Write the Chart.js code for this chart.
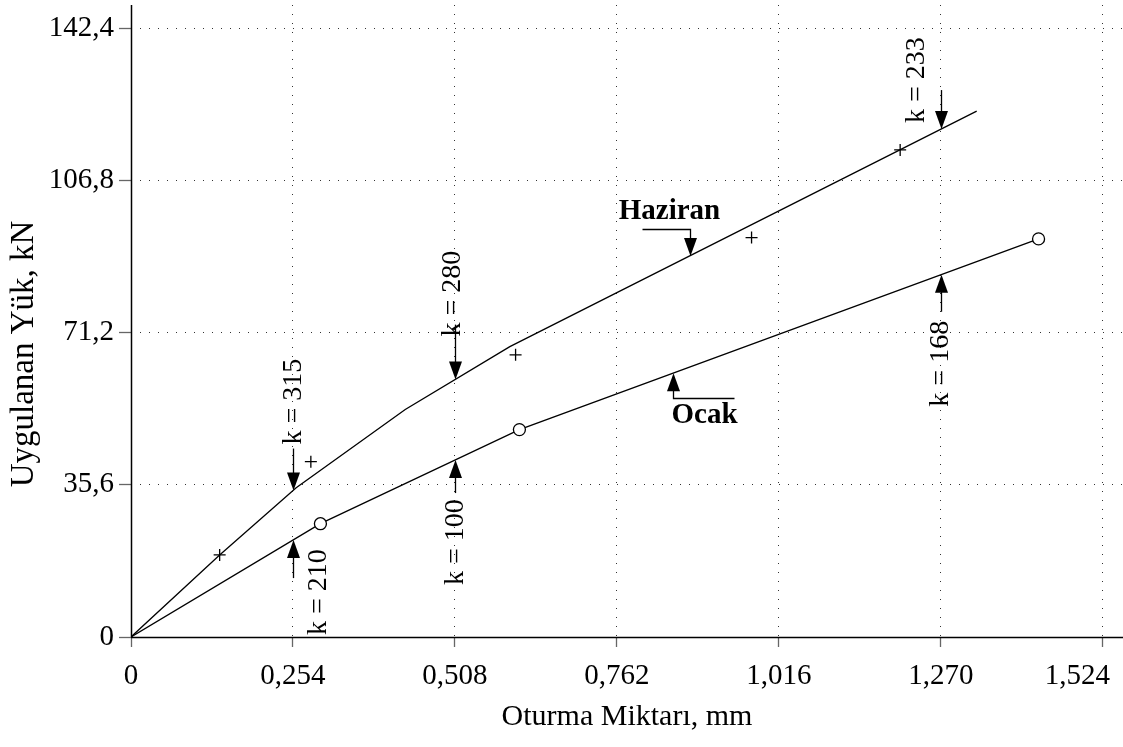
<!DOCTYPE html>
<html>
<head>
<meta charset="utf-8">
<script src="https://cdn.jsdelivr.net/npm/chart.js@4/dist/chart.umd.min.js"></script>
<style>
  html, body { margin: 0; padding: 0; background: #ffffff; }
  #wrap { width: 1123px; height: 747px; position: relative; }
</style>
</head>
<body>
<div id="wrap"><canvas id="c" width="1123" height="747"></canvas></div>
<script>
// ---- Data ----
const xTicks = [0, 0.254, 0.508, 0.762, 1.016, 1.270, 1.524];
const xTickLabels = ['0', '0,254', '0,508', '0,762', '1,016', '1,270', '1,524'];
const yTicks = [0, 35.6, 71.2, 106.8, 142.4];
const yTickLabels = ['0', '35,6', '71,2', '106,8', '142,4'];

// Haziran: fitted line (polyline) and measured points (+)
const hazLineX = [0, 0.139, 0.259, 0.430, 0.594, 1.326];
const hazLineY = [0, 19.2, 34.9, 53.2, 67.9, 123.0];
const hazPtsX = [0.139, 0.282, 0.603, 0.973, 1.206];
const hazPtsY = [19.2, 41.0, 66.0, 93.4, 113.9];

// Ocak: line through origin and measured points (o)
const ocakX = [0, 0.297, 0.609, 1.423];
const ocakY = [0, 26.5, 48.5, 93.1];

// k annotations
const kLabels = ['k = 315', 'k = 280', 'k = 233', 'k = 210', 'k = 100', 'k = 168'];
const kAtX = [0.254, 0.508, 1.270, 0.254, 0.508, 1.270];
const kSeries = ['Haziran', 'Haziran', 'Haziran', 'Ocak', 'Ocak', 'Ocak'];

// series name labels
const seriesNames = ['Haziran', 'Ocak'];
const seriesLabelAtX = [0.876, 0.850];

const xTitle = 'Oturma Miktarı, mm';
const yTitle = 'Uygulanan Yük, kN';

// ---- Build ----
const toPts = (xs, ys) => xs.map((x, i) => ({ x: x, y: ys[i] }));
const seriesLines = { Haziran: toPts(hazLineX, hazLineY), Ocak: toPts(ocakX, ocakY) };

function interpY(pts, x) {
  for (let i = 0; i < pts.length - 1; i++) {
    const a = pts[i], b = pts[i + 1];
    if (x >= a.x && x <= b.x) return a.y + (b.y - a.y) * (x - a.x) / (b.x - a.x);
  }
  return pts[pts.length - 1].y;
}

const SERIF = '"Liberation Serif", "Times New Roman", serif';

// layout styles for annotations (pixels, relative to the arrow tip)
const kStyle = [
  { dir: 'down', shaft: 42, tx: 0,   ty: -89 },
  { dir: 'down', shaft: 55, tx: -3,  ty: -86 },
  { dir: 'down', shaft: 39, tx: -25, ty: -49 },
  { dir: 'up',   shaft: 38, tx: 25,  ty: 52 },
  { dir: 'up',   shaft: 33, tx: 0,   ty: 82 },
  { dir: 'up',   shaft: 37, tx: -1,  ty: 89 }
];
const nameStyle = [
  { dir: 'down', shaft: 27, hx: -48, tx: -21, ty: -44 },
  { dir: 'up',   shaft: 25, hx: 61,  tx: 31,  ty: 42 }
];

function arrowHead(ctx, x, y, dir) {
  const L = 18, W = 6.5;
  ctx.beginPath();
  ctx.moveTo(x, y);
  if (dir === 'down') { ctx.lineTo(x - W, y - L); ctx.lineTo(x + W, y - L); }
  else { ctx.lineTo(x - W, y + L); ctx.lineTo(x + W, y + L); }
  ctx.closePath();
  ctx.fill();
}

const annotPlugin = {
  id: 'annot',
  afterDatasetsDraw(chart) {
    const ctx = chart.ctx;
    const xs = chart.scales.x, ys = chart.scales.y;
    ctx.save();
    ctx.fillStyle = '#000';
    ctx.strokeStyle = '#000';
    ctx.lineWidth = 1.3;
    // k labels
    kLabels.forEach((txt, i) => {
      const st = kStyle[i];
      const px = Math.round(xs.getPixelForValue(kAtX[i])) + 0.5;
      const py = ys.getPixelForValue(interpY(seriesLines[kSeries[i]], kAtX[i]));
      const sgn = st.dir === 'down' ? -1 : 1;
      ctx.beginPath();
      ctx.moveTo(px, py + sgn * 10);
      ctx.lineTo(px, py + sgn * st.shaft);
      ctx.stroke();
      arrowHead(ctx, px, py, st.dir);
      ctx.save();
      ctx.translate(px + st.tx, py + st.ty);
      ctx.rotate(-Math.PI / 2);
      ctx.font = '28px ' + SERIF;
      ctx.textAlign = 'center';
      ctx.textBaseline = 'middle';
      ctx.fillText(txt, 0, 0);
      ctx.restore();
    });
    // series name labels
    seriesNames.forEach((name, i) => {
      const st = nameStyle[i];
      const px = Math.round(xs.getPixelForValue(seriesLabelAtX[i])) + 0.5;
      const py = ys.getPixelForValue(interpY(seriesLines[name], seriesLabelAtX[i]));
      const sgn = st.dir === 'down' ? -1 : 1;
      const ey = Math.round(py + sgn * st.shaft) + 0.5;
      ctx.beginPath();
      ctx.moveTo(px, py + sgn * 10);
      ctx.lineTo(px, ey);
      ctx.lineTo(px + st.hx, ey);
      ctx.stroke();
      arrowHead(ctx, px, py, st.dir);
      ctx.font = 'bold 29px ' + SERIF;
      ctx.textAlign = 'center';
      ctx.textBaseline = 'middle';
      ctx.fillText(name, px + st.tx, py + st.ty);
    });
    // y axis title
    ctx.save();
    ctx.translate(24.5, 354);
    ctx.rotate(-Math.PI / 2);
    ctx.font = '33px ' + SERIF;
    ctx.textAlign = 'center';
    ctx.textBaseline = 'middle';
    ctx.fillText(yTitle, 0, 0);
    ctx.restore();
    // axis lines (solid)
    const a = chart.chartArea;
    ctx.lineWidth = 1.5;
    ctx.beginPath();
    ctx.moveTo(a.left + 0.5, a.top);
    ctx.lineTo(a.left + 0.5, a.bottom);
    ctx.moveTo(a.left, a.bottom + 0.5);
    ctx.lineTo(chart.width, a.bottom + 0.5);
    ctx.stroke();
    ctx.restore();
  }
};

function patchLastXLabel(s) {
  if (s._lastLabelPatched) return;
  s._lastLabelPatched = true;
  const orig = s.getLabelItems.bind(s);
  s.getLabelItems = function (ca) {
    const items = orig(ca);
    const last = items[items.length - 1];
    if (last) {
      last.options.textAlign = 'right';
      last.options.translation = [s.getPixelForValue(xTicks[xTicks.length - 1]) + 7, last.options.translation[1]];
    }
    return items;
  };
}

new Chart(document.getElementById('c'), {
  type: 'scatter',
  data: {
    datasets: [
      {
        label: 'Haziran (doğru)',
        data: toPts(hazLineX, hazLineY),
        showLine: true,
        borderColor: '#000',
        borderWidth: 1.3,
        pointRadius: 0,
        tension: 0
      },
      {
        label: 'Haziran',
        data: toPts(hazPtsX, hazPtsY),
        showLine: false,
        pointStyle: 'cross',
        pointRadius: 6,
        borderColor: '#000',
        borderWidth: 1.3,
        backgroundColor: '#000'
      },
      {
        label: 'Ocak',
        data: toPts(ocakX, ocakY),
        showLine: true,
        borderColor: '#000',
        borderWidth: 1.3,
        pointStyle: 'circle',
        pointRadius: ocakX.map((x) => (x === 0 ? 0 : 6)),
        pointBackgroundColor: '#fff',
        pointBorderColor: '#000',
        pointBorderWidth: 1.3,
        tension: 0
      }
    ]
  },
  options: {
    responsive: false,
    animation: false,
    events: [],
    layout: { autoPadding: false, padding: { top: 5, right: 0, bottom: 0, left: 0 } },
    plugins: { legend: { display: false }, tooltip: { enabled: false } },
    scales: {
      x: {
        type: 'linear',
        min: 0,
        max: 1.5554,
        afterBuildTicks: (s) => { s.ticks = xTicks.map((v) => ({ value: v })); },
        afterFit: (s) => { s.height = 110; s.paddingLeft = 0; s.paddingRight = 0; patchLastXLabel(s); },
        ticks: {
          callback: (v) => { const i = xTicks.indexOf(v); return i >= 0 ? xTickLabels[i] : ''; },
          font: { family: SERIF, size: 29 },
          color: '#000',
          padding: 12,
          maxRotation: 0,
          autoSkip: false
        },
        grid: { color: '#333', lineWidth: 1, tickLength: 10, tickColor: '#666', tickWidth: 1.3 },
        border: { display: false, dash: [1, 8] },
        title: {
          display: true,
          text: xTitle,
          font: { family: SERIF, size: 30 },
          color: '#000',
          padding: { top: 0, bottom: 12 }
        }
      },
      y: {
        type: 'linear',
        min: 0,
        max: 147.8,
        afterBuildTicks: (s) => { s.ticks = yTicks.map((v) => ({ value: v })); },
        afterFit: (s) => { s.width = 131; s.paddingTop = 0; s.paddingBottom = 0; },
        ticks: {
          callback: (v) => { const i = yTicks.indexOf(v); return i >= 0 ? yTickLabels[i] : ''; },
          font: { family: SERIF, size: 29 },
          color: '#000',
          padding: 5,
          autoSkip: false
        },
        grid: { color: '#333', lineWidth: 1, tickLength: 12, tickColor: '#666', tickWidth: 1.3 },
        border: { display: false, dash: [1, 8] }
      }
    }
  },
  plugins: [annotPlugin]
});
</script>
</body>
</html>
